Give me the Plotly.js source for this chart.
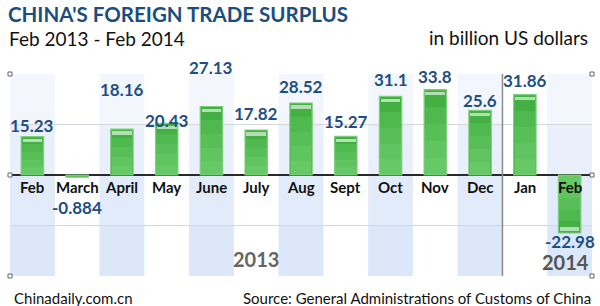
<!DOCTYPE html>
<html>
<head>
<meta charset="utf-8">
<script src="https://cdn.plot.ly/plotly-3.0.1.min.js"></script>
<style>
  html, body { margin: 0; padding: 0; background: #fff; }
  #chart { width: 600px; height: 306px; }
</style>
</head>
<body>
<div id="chart"></div>
<script>
// ---- data ----
const months = ["Feb", "March", "April", "May", "June", "July", "Aug", "Sept", "Oct", "Nov", "Dec", "Jan", "Feb"];
const surplus = [15.23, -0.884, 18.16, 20.43, 27.13, 17.82, 28.52, 15.27, 31.1, 33.8, 25.6, 31.86, -22.98];
const valueLabels = ["15.23", "-0.884", "18.16", "20.43", "27.13", "17.82", "28.52", "15.27", "31.1", "33.8", "25.6", "31.86", "-22.98"];
const years = ["2013", "2014"];

// ---- label placement (pixels, style only) ----
const labelShift = [11, -30, 40, 2.5, 39.5, 17, 16, 14.7, 16.5, 12.7, 10, 13.6, -8];

const idx = months.map((_, i) => i);
const labelBlue = "#1d4f86";
const FONT = "Lato, 'Open Sans', sans-serif";

const traces = [
  {
    type: "bar", x: idx, y: surplus, width: 0.5,
    marker: { color: "#44b044", line: { color: "#7ccf7c", width: 1.2 } },
    hoverinfo: "skip"
  }
];
// soft vertical shading: lighter overlays toward the zero line (heights scaled from the data)
[0.8, 0.6, 0.4, 0.2].forEach(f => {
  traces.push({
    type: "bar", x: idx, y: surplus.map(v => v * f), width: 0.46,
    marker: { color: "rgba(135,228,135,0.17)", line: { width: 0 } },
    hoverinfo: "skip"
  });
});
// glossy highlight band near the bar end
traces.push({
  type: "bar", x: idx,
  y: surplus.map(v => Math.abs(v) > 3 ? 1.4 : 0),
  base: surplus.map(v => v >= 0 ? v - 2.3 : v + 0.9),
  width: 0.44,
  marker: { color: "rgba(255,255,255,0.6)", line: { width: 0 } },
  hoverinfo: "skip"
});

const shapes = [];
idx.forEach(i => {
  if (i % 2 === 0) {
    [40, 20, 0, -20].forEach(top => {
      shapes.push({ type: "rect", layer: "below", xref: "x", yref: "y",
        x0: i - 0.5, x1: i + 0.5, y0: -40, y1: top,
        fillcolor: "rgba(200,220,246,0.22)", line: { width: 0 } });
    });
  }
});
// year divider between Dec and Jan
shapes.push({ type: "line", xref: "x", yref: "y", x0: 10.5, x1: 10.5, y0: -40, y1: 40,
  line: { color: "#8a8a8a", width: 1.5 } });
// corner handles
[[0, 1], [1, 1], [0, 0.5], [1, 0.5], [0, 0], [1, 0]].forEach(([px, py]) => {
  shapes.push({ type: "rect", xref: "paper", yref: "paper", layer: "above",
    xsizemode: "pixel", ysizemode: "pixel", xanchor: px, yanchor: py,
    x0: -2, x1: 2, y0: -2, y1: 2,
    line: { color: "#666", width: 1 }, fillcolor: "#fff" });
});

const annotations = [];
idx.forEach(i => {
  annotations.push({
    x: i, y: surplus[i], xref: "x", yref: "y", text: valueLabels[i],
    showarrow: false, yanchor: "middle", yshift: labelShift[i],
    font: { family: FONT, size: 17, color: labelBlue, weight: "bold" }
  });
  annotations.push({
    x: i, y: 0, xref: "x", yref: "y", text: months[i],
    showarrow: false, yanchor: "middle", yshift: -12,
    font: { family: FONT, size: 15, color: "#111", weight: "bold" }
  });
});
annotations.push({ x: 5.0, y: -33.3, xref: "x", yref: "y", text: years[0], showarrow: false,
  font: { family: FONT, size: 20, color: "#666", weight: "bold" } });
annotations.push({ x: 11.9, y: -34.5, xref: "x", yref: "y", text: years[1], showarrow: false,
  font: { family: FONT, size: 20, color: "#555", weight: "bold" } });
// subtitles & footer
annotations.push({ xref: "paper", yref: "paper", x: -0.006, y: 1.178, xanchor: "left", yanchor: "middle",
  text: "Feb 2013 - Feb 2014", showarrow: false,
  font: { family: FONT, size: 19, color: "#111" } });
annotations.push({ xref: "paper", yref: "paper", x: 0.997, y: 1.183, xanchor: "right", yanchor: "middle",
  text: "in billion US dollars", showarrow: false,
  font: { family: FONT, size: 19, color: "#111" } });
annotations.push({ xref: "paper", yref: "paper", x: 0.003, y: -0.109, xanchor: "left", yanchor: "middle",
  text: "Chinadaily.com.cn", showarrow: false,
  font: { family: FONT, size: 15, color: "#111" } });
annotations.push({ xref: "paper", yref: "paper", x: 1.002, y: -0.109, xanchor: "right", yanchor: "middle",
  text: "Source: General Administrations of Customs of China", showarrow: false,
  font: { family: FONT, size: 15, color: "#111" } });

const layout = {
  width: 600, height: 306,
  margin: { l: 10, r: 8, t: 74, b: 30 },
  paper_bgcolor: "#fff", plot_bgcolor: "rgba(0,0,0,0)",
  showlegend: false, barmode: "overlay", bargap: 0,
  title: { text: "CHINA'S FOREIGN TRADE SURPLUS", xref: "container", yref: "container",
    x: 8 / 600, xanchor: "left", y: 1 - 15 / 306, yanchor: "middle",
    font: { family: FONT, size: 20.5, color: "#1b4e80", weight: "bold" } },
  xaxis: { range: [-0.5, 12.5], showticklabels: false, showgrid: false, zeroline: false,
    fixedrange: true },
  yaxis: { range: [-40, 40], dtick: 20, showticklabels: false, showgrid: true,
    gridcolor: "#d4d8dc", gridwidth: 1, zeroline: true, zerolinecolor: "#2a2a2a",
    zerolinewidth: 2, fixedrange: true },
  shapes: shapes,
  annotations: annotations
};

Plotly.newPlot("chart", traces, layout, { displayModeBar: false, staticPlot: true });
</script>
</body>
</html>
